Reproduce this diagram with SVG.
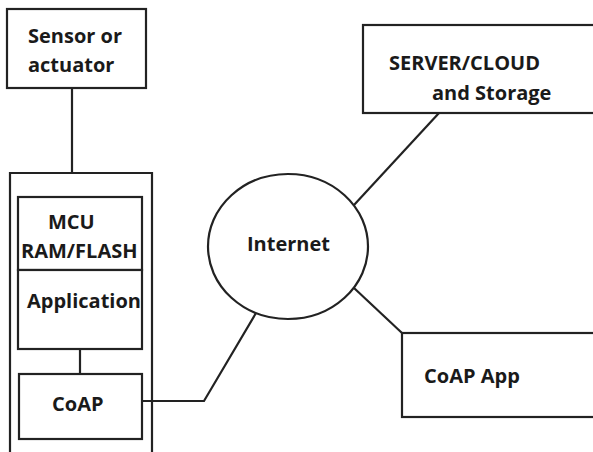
<svg xmlns="http://www.w3.org/2000/svg" width="593" height="452" viewBox="0 0 593 452">
<style>
.b{fill:#fff;stroke:#222;stroke-width:2.2}
.c{fill:none;stroke:#222;stroke-width:2.2}
text{font-family:"Open Sans","DejaVu Sans",sans-serif;font-weight:bold;font-size:20px;fill:#1a1a1a}
</style>
<rect width="593" height="452" fill="#fff"/>
<g id="connectors">
<line class="c" x1="72" y1="88" x2="72" y2="173"/>
<line class="c" x1="80" y1="349" x2="80" y2="374"/>
<polyline class="c" points="142,401 204,401 256,313"/>
<line class="c" x1="354" y1="205" x2="439" y2="113"/>
<line class="c" x1="354" y1="288" x2="402" y2="333"/>
</g>
<g id="sensor">
<rect class="b" x="7" y="9" width="139" height="79"/>
<text x="28" y="43">Sensor or</text>
<text x="28" y="72">actuator</text>
</g>
<g id="device">
<path class="c" d="M10,453 V173 H152 V453"/>
</g>
<g id="mcu">
<rect class="b" x="18" y="197" width="124" height="73"/>
<text x="48" y="229">MCU</text>
<text x="21" y="258">RAM/FLASH</text>
</g>
<g id="application">
<rect class="b" x="18" y="270" width="124" height="79"/>
<text x="27" y="308">Application</text>
</g>
<g id="coap">
<rect class="b" x="19" y="374" width="123" height="65"/>
<text x="52" y="411">CoAP</text>
</g>
<g id="internet">
<ellipse class="b" cx="288" cy="246.5" rx="80" ry="72.5"/>
<text x="247" y="251">Internet</text>
</g>
<g id="server">
<rect class="b" x="363" y="25" width="240" height="88"/>
<text x="389" y="70">SERVER/CLOUD</text>
<text x="432" y="100">and Storage</text>
</g>
<g id="coapapp">
<rect class="b" x="402" y="333" width="200" height="84"/>
<text x="424" y="383">CoAP App</text>
</g>
</svg>
